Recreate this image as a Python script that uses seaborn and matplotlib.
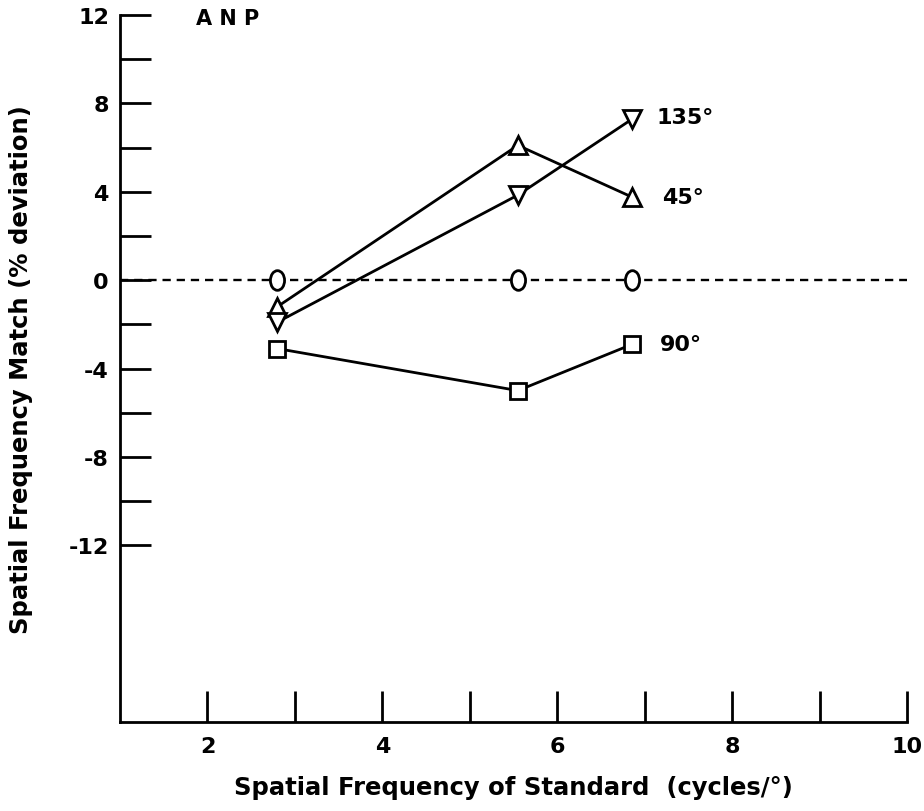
import numpy as np
import pandas as pd
import matplotlib
matplotlib.use("Agg")
import matplotlib.pyplot as plt
import matplotlib.path as mpath
import matplotlib.transforms as mtrans
import seaborn as sns

# ---- data ----
freq = [2.8, 5.55, 6.86]
dev_45 = [-1.2, 6.1, 3.75]
dev_135 = [-1.9, 3.85, 7.3]
dev_0 = [0.0, 0.0, 0.0]
dev_90 = [-3.1, -5.0, -2.9]
series_labels = ["135°", "45°", "90°"]
y_major = [-12, -8, -4, 0, 4, 8, 12]
y_minor = [-10, -6, -2, 2, 6, 10]
x_major = [2, 4, 6, 8, 10]
x_minor = [3, 5, 7, 9]

sns.set_theme(style="ticks")
plt.rcParams["font.family"] = ["DejaVu Sans"]
plt.rcParams["font.weight"] = "bold"
plt.rcParams["text.color"] = "black"
plt.rcParams["axes.labelcolor"] = "black"
plt.rcParams["xtick.color"] = "black"
plt.rcParams["ytick.color"] = "black"

fig = plt.figure(figsize=(9.24, 8.12), dpi=100)
ax = fig.add_axes([0.1299, 0.1096, 0.8517, 0.8707])

# elliptical "circle" marker (taller than wide)
ell = mpath.Path.unit_circle().transformed(mtrans.Affine2D().scale(0.72, 1.0))

lw = 2.0
common = dict(color="black", markerfacecolor="white", markeredgecolor="black",
              markeredgewidth=2.0, linewidth=lw)

df = pd.DataFrame({"freq": freq, "d45": dev_45, "d135": dev_135,
                   "d0": dev_0, "d90": dev_90})

ax.axhline(0, xmin=0, xmax=1, color="black", linestyle=(0, (3.5, 2.5)), linewidth=1.7, zorder=1)

sns.lineplot(data=df, x="freq", y="d45", ax=ax, marker="^", markersize=13, **common)
sns.lineplot(data=df, x="freq", y="d135", ax=ax, marker="v", markersize=13, **common)
sns.lineplot(data=df, x="freq", y="d90", ax=ax, marker="s", markersize=11, **common)
sns.scatterplot(data=df, x="freq", y="d0", ax=ax, marker=ell, s=200, facecolor="white",
                edgecolor="black", linewidth=2.0, zorder=5)

ax.set_xlim(1, 10)
ax.set_ylim(-20, 12)
ax.set_xticks(x_major)
ax.set_xticks(x_minor, minor=True)
ax.set_yticks(y_major)
ax.set_yticks(y_minor, minor=True)
ax.set_xticklabels([str(v) for v in x_major], fontsize=16, fontweight="bold")
ax.set_yticklabels([str(v) for v in y_major], fontsize=16, fontweight="bold")
ax.tick_params(axis="both", which="both", direction="in", length=22, width=2, color="black", pad=8)
ax.tick_params(axis="x", which="both", pad=10)

for s in ["top", "right"]:
    ax.spines[s].set_visible(False)
for s in ["left", "bottom"]:
    ax.spines[s].set_linewidth(2)
    ax.spines[s].set_color("black")

ax.set_xlabel("Spatial Frequency of Standard  (cycles/°)", fontsize=17.5, fontweight="bold", labelpad=14)
ax.set_ylabel("Spatial Frequency Match (% deviation)", fontsize=17.5, fontweight="bold", labelpad=26)

ax.text(1.87, 11.85, "A N P", fontsize=15, fontweight="bold", va="center", ha="left")
ax.text(7.14, 7.4, series_labels[0], fontsize=16, fontweight="bold", va="center", ha="left")
ax.text(7.2, 3.75, series_labels[1], fontsize=16, fontweight="bold", va="center", ha="left")
ax.text(7.17, -2.9, series_labels[2], fontsize=16, fontweight="bold", va="center", ha="left")

ax.set_facecolor("white")
fig.patch.set_facecolor("white")
fig.savefig("out.png", dpi=100)
